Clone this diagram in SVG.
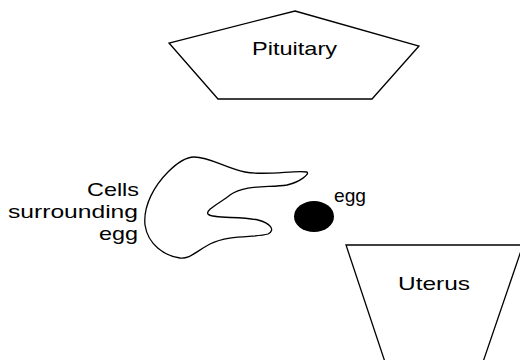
<svg xmlns="http://www.w3.org/2000/svg" width="520" height="360" viewBox="0 0 520 360">
<style>
.shape{fill:#fff;stroke:#000;stroke-width:1.3;stroke-linejoin:miter}
.lbl{font-family:"Liberation Sans",Arial,sans-serif;font-size:19px;fill:#000}
</style>
<rect width="520" height="360" fill="#fff"/>
<g id="pituitary">
<polygon class="shape" points="295,11 419,46 372,99 218,99 169,43"/>
<text class="lbl" x="252" y="55" textLength="85" lengthAdjust="spacingAndGlyphs">Pituitary</text>
</g>
<g id="cells">
<path class="shape" d="M194 157 C210 157 225 168 245 172 C265 176 295 170 307 172 C310 174 300 182 287 185 C270 188 245 184 230 195 C220 203 205 210 208 214 C212 219 240 216 258 220 C270 223 276 230 268 234 C255 238 230 234 210 244 C195 252 190 259 180 258 C165 256 148 245 145 225 C143 205 155 185 168 172 C178 162 186 157 194 157 Z"/>
<text class="lbl" x="87" y="196" textLength="52" lengthAdjust="spacingAndGlyphs">Cells</text>
<text class="lbl" x="8" y="218" textLength="130" lengthAdjust="spacingAndGlyphs">surrounding</text>
<text class="lbl" x="99" y="240" textLength="39" lengthAdjust="spacingAndGlyphs">egg</text>
</g>
<g id="egg">
<ellipse cx="314" cy="216.5" rx="20" ry="15.5" fill="#000"/>
<text class="lbl" x="334" y="202" textLength="32" lengthAdjust="spacingAndGlyphs">egg</text>
</g>
<g id="uterus">
<polygon class="shape" points="346,245 523,245 483,362 385,362"/>
<text class="lbl" x="398" y="290" textLength="72" lengthAdjust="spacingAndGlyphs">Uterus</text>
</g>
<g id="connectors"/>
</svg>
